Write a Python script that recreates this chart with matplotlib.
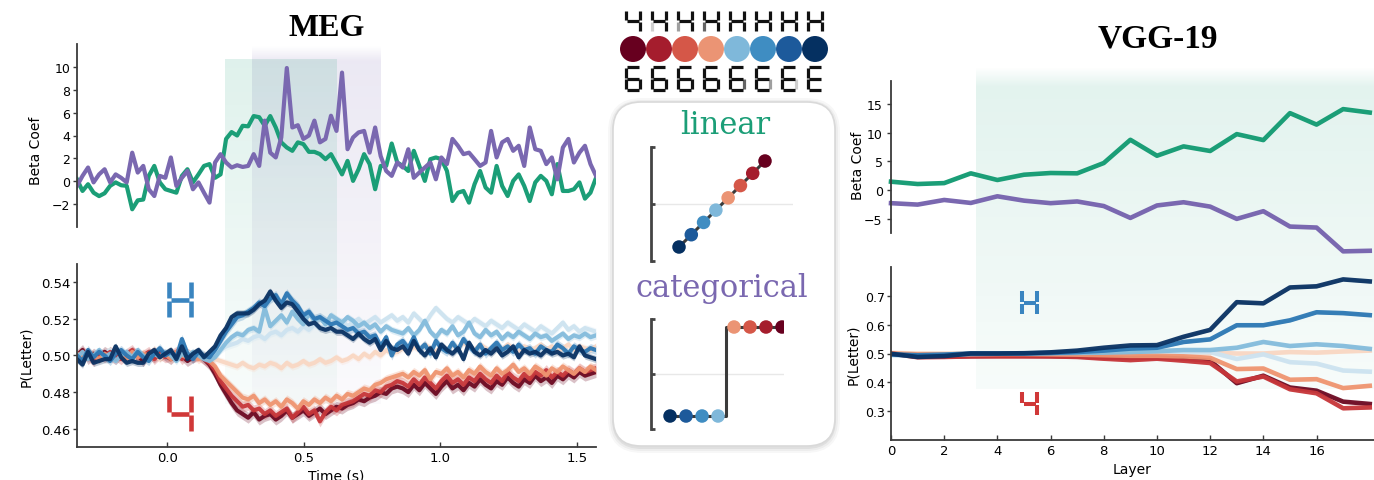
import numpy as np
import matplotlib.pyplot as plt
from matplotlib.colors import to_rgb
from matplotlib.patches import FancyBboxPatch

W, H = 1374, 481
GREEN = '#1b9e77'
PURPLE = '#7a68b0'

# ---------------- MEG: regression betas (20 ms steps, -0.33 .. 1.57 s) ----------------
meg_linear = [0.17, -0.85, -0.26, -1.0, -1.3, -1.05, -0.4, -0.1, -0.35, -0.4,
              -2.45, -1.67, -1.6, 0.47, 1.34, -0.1, -0.7, -0.85, -1.0, 0.47,
              1.05, -0.1, 0.6, 1.34, 1.5, 0.3, 0.6, 3.7, 4.3, 4.0,
              4.85, 4.8, 5.7, 5.6, 4.85, 5.7, 4.7, 3.4, 2.95, 2.66,
              3.4, 3.25, 2.57, 2.57, 2.37, 1.93, 2.37, 1.5, 0.6, 1.78,
              0.03, 1.05, 2.37, 1.5, -0.7, 1.34, 1.34, 3.3, 1.64, 1.34,
              0.9, 2.66, 1.34, 0.03, 1.93, 2.08, 1.93, 0.9, -1.73, -1.0,
              -0.85, -1.87, -0.26, 0.9, -0.55, -1.0, 1.34, -0.41, -1.29, 0.03,
              0.6, -0.41, -1.73, -0.1, 0.47, 0.03, -1.14, 1.5, -0.85, -0.85,
              -0.7, -0.1, -1.52, -1.0, 0.3]
meg_categorical = [-0.41, 0.47, 1.2, -0.1, 0.6, 1.05, -0.1, 0.6, 0.3, -0.1,
                   2.5, 0.76, 1.34, -0.7, -1.29, 0.47, 0.3, 2.08, -0.41, 0.3,
                   0.9, -0.7, -0.1, -1.0, -1.87, 1.64, 2.37, 1.64, 1.2, 1.4,
                   1.25, 1.34, 2.37, 1.34, 5.3, 2.5, 2.08, 3.83, 9.9, 4.7,
                   4.9, 3.7, 4.0, 5.3, 3.4, 3.7, 5.73, 4.4, 9.5, 2.8,
                   3.83, 4.27, 4.4, 2.5, 4.7, 2.2, 0.9, 0.47, 1.64, 1.2,
                   2.8, 0.3, 0.76, 1.2, 1.64, 0.17, 2.08, 1.5, 3.7, 3.1,
                   2.37, 2.5, 1.93, 1.34, 1.64, 4.4, 2.08, 3.4, 3.7, 2.66,
                   3.1, 1.34, 4.7, 2.8, 2.66, 1.5, 2.08, 0.17, 2.95, 3.7,
                   1.64, 2.5, 3.1, 1.5, 0.47]
meg_sig_linear = (0.21, 0.62)
meg_sig_categorical = (0.31, 0.78)

# ---------------- MEG: P(Letter) per morph level ----------------
meg_dark_red = [.500, .503, .498, .501, .499, .502, .500, .498, .501, .499, .502, .500, .497, .501, .499, .502, .500, .498, .501, .500, .497, .499, .501, .498, .495,
                .490, .484, .479, .474, .470, .468, .466, .469, .465, .467, .468, .465, .467, .470, .466, .468, .470, .467, .469, .471, .468, .470, .472, .471, .473, .474, .476, .475, .477, .478, .480, .479, .482, .483,
                .482, .480, .484, .481, .485, .482, .479, .483, .486, .482, .484, .481, .485, .483, .487, .484, .482, .486, .484, .488, .485, .483, .487, .485, .489, .486, .488, .485, .489, .487, .490, .488, .491, .489, .490, .491]
meg_red = [.499, .502, .500, .497, .501, .499, .502, .500, .498, .501, .503, .499, .500, .502, .498, .501, .499, .500, .502, .498, .501, .499, .500, .498, .496,
           .492, .486, .482, .478, .475, .472, .473, .470, .471, .468, .470, .467, .469, .471, .466, .469, .472, .468, .470, .464, .469, .472, .470, .473, .474, .475, .477, .479, .478, .481, .480, .483, .484, .486,
           .485, .483, .487, .484, .488, .485, .482, .486, .489, .485, .487, .484, .488, .486, .490, .487, .485, .489, .486, .491, .488, .486, .490, .487, .491, .489, .492, .488, .491, .489, .492, .490, .493, .491, .492, .493]
meg_salmon = [.501, .499, .502, .500, .498, .501, .499, .503, .500, .498, .502, .499, .501, .500, .503, .499, .501, .498, .502, .500, .499, .501, .498, .500, .497,
              .494, .489, .486, .483, .480, .477, .476, .478, .474, .476, .473, .475, .472, .476, .474, .471, .475, .473, .476, .474, .477, .475, .478, .476, .479, .478, .480, .482, .481, .484, .485, .487, .488, .489,
              .490, .488, .491, .489, .492, .487, .491, .490, .493, .489, .491, .488, .492, .490, .494, .491, .489, .493, .490, .492, .495, .491, .493, .490, .494, .492, .489, .493, .491, .494, .492, .490, .493, .491, .494, .492]
meg_peach = [.500, .502, .499, .501, .498, .500, .503, .499, .501, .500, .497, .501, .499, .502, .500, .498, .501, .503, .499, .500, .502, .499, .501, .500, .499,
             .498, .497, .496, .495, .494, .496, .494, .493, .495, .494, .496, .495, .493, .496, .494, .495, .497, .495, .496, .498, .496, .497, .499, .497, .498, .500, .498, .501, .499, .502, .500, .503, .501, .502,
             .504, .502, .505, .503, .506, .504, .502, .505, .503, .506, .504, .507, .505, .503, .506, .504, .502, .505, .503, .506, .504, .502, .505, .503, .504, .506, .503, .505, .502, .504, .506, .503, .505, .504, .503, .505]
meg_pale_blue = [.501, .499, .502, .500, .498, .501, .503, .499, .500, .502, .498, .501, .499, .502, .500, .503, .499, .501, .500, .498, .502, .500, .501, .499, .500,
                 .501, .503, .505, .506, .507, .509, .508, .510, .511, .509, .512, .513, .511, .514, .515, .513, .516, .514, .517, .515, .516, .514, .517, .519, .516, .518, .520, .517, .519, .521, .518, .520, .522, .519,
                 .521, .518, .523, .520, .517, .522, .526, .523, .520, .518, .521, .519, .517, .520, .518, .516, .519, .517, .515, .518, .516, .514, .517, .515, .513, .516, .514, .512, .515, .518, .514, .516, .513, .515, .514, .513]
meg_light_blue = [.499, .502, .498, .500, .503, .499, .501, .497, .500, .502, .499, .503, .500, .498, .501, .499, .502, .500, .497, .501, .499, .502, .500, .498, .497,
                  .499, .503, .507, .510, .512, .511, .514, .515, .513, .526, .516, .519, .522, .518, .524, .520, .517, .523, .519, .521, .517, .522, .520, .518, .521, .519, .516, .518, .515, .517, .513, .516, .514, .513,
                  .512, .515, .511, .514, .519, .513, .510, .514, .512, .516, .511, .513, .518, .512, .510, .514, .511, .513, .509, .512, .510, .513, .511, .509, .512, .510, .511, .508, .510, .512, .509, .511, .510, .512, .510, .511]
meg_blue = [.500, .497, .503, .499, .502, .500, .497, .501, .503, .500, .498, .502, .499, .497, .501, .504, .500, .502, .499, .509, .501, .498, .502, .500, .499,
            .503, .508, .513, .517, .521, .522, .524, .526, .529, .527, .531, .533, .528, .534, .530, .527, .522, .524, .520, .521, .519, .517, .518, .516, .514, .515, .512, .513, .510, .511, .505, .510, .500, .506,
            .508, .504, .510, .503, .506, .501, .508, .504, .502, .507, .503, .509, .505, .502, .506, .501, .504, .507, .503, .505, .502, .506, .503, .504, .501, .505, .503, .502, .506, .504, .501, .505, .503, .502, .504, .503]
meg_navy = [.498, .495, .502, .496, .497, .498, .498, .505, .499, .496, .497, .496, .496, .501, .503, .499, .501, .503, .498, .505, .498, .501, .503, .499, .502,
            .505, .511, .515, .521, .523, .523, .523, .525, .528, .530, .535, .530, .526, .529, .528, .524, .520, .517, .518, .515, .514, .515, .513, .513, .511, .509, .512, .509, .507, .509, .503, .508, .504, .503,
            .505, .501, .508, .503, .500, .504, .499, .506, .503, .501, .504, .498, .507, .502, .500, .503, .501, .504, .500, .502, .505, .499, .503, .501, .502, .500, .503, .501, .502, .500, .501, .499, .505, .500, .499, .498]
meg_sem = [0.003, 0.003, 0.0025, 0.002, 0.002, 0.002, 0.0025, 0.002]

# ---------------- VGG-19 ----------------
vgg_layers = list(range(19))
vgg_linear = [1.45, 1.04, 1.2, 2.9, 1.74, 2.66, 2.96, 2.9, 4.7, 8.75, 5.97, 7.6, 6.8, 9.74, 8.7, 13.4, 11.4, 14.1, 13.5]
vgg_categorical = [-2.3, -2.55, -1.74, -2.26, -1.1, -1.86, -2.3, -2.0, -2.8, -4.87, -2.7, -2.14, -2.9, -5.04, -3.7, -6.38, -6.55, -10.7, -10.6]
vgg_sig_linear = (3.2, 18.3)
vgg_dark_red = [.500, .490, .490, .491, .492, .492, .491, .490, .486, .484, .486, .482, .475, .397, .423, .382, .371, .333, .325]
vgg_red = [.500, .487, .488, .490, .490, .490, .490, .488, .482, .477, .482, .475, .467, .403, .420, .376, .362, .310, .313]
vgg_salmon = [.500, .497, .497, .498, .498, .498, .497, .496, .494, .492, .492, .490, .485, .446, .448, .409, .411, .380, .388]
vgg_peach = [.502, .500, .500, .500, .500, .500, .500, .500, .499, .499, .499, .500, .503, .500, .500, .505, .503, .507, .510]
vgg_pale_blue = [.496, .495, .497, .499, .500, .500, .500, .501, .501, .502, .503, .504, .505, .481, .497, .470, .465, .441, .437]
vgg_light_blue = [.495, .493, .495, .498, .499, .500, .501, .502, .503, .505, .508, .512, .512, .520, .540, .526, .532, .526, .516]
vgg_blue = [.497, .494, .496, .500, .500, .500, .502, .505, .510, .517, .520, .540, .549, .598, .598, .615, .643, .640, .633]
vgg_navy = [.499, .488, .491, .500, .500, .501, .504, .510, .520, .528, .529, .558, .582, .678, .674, .729, .733, .757, .750]
vgg_sem = 0.005

# ---------------- legend / schema ----------------
morph_colors = ['#67001f', '#a51d2d', '#d55748', '#eb9474', '#7fb8da', '#3f8dc2', '#1d5a9b', '#053061']
line_colors = ['#6d0a22', '#c7373a', '#ef9571', '#f9d7c3', '#cde3f0', '#84bcdc', '#2d78b4', '#0a3263']
top_e_weight = [0, .2, .4, .65, 1, 1, 1, 1]       # 4 -> H
bottom_c_weight = [1, 1, 1, 1, .65, .4, .2, 0]    # 6 -> E
schema_x = [0, 1, 2, 3, 4, 5, 6, 7]
schema_linear = [0, 1, 2, 3, 4, 5, 6, 7]
schema_categorical = [0, 0, 0, 0, 1, 1, 1, 1]

SEGMENTS = {
    'a': [(0.1, 1.0), (0.9, 1.0)], 'b': [(1.0, 0.97), (1.0, 0.54)],
    'c': [(1.0, 0.46), (1.0, 0.03)], 'd': [(0.1, 0.0), (0.9, 0.0)],
    'e': [(0.0, 0.46), (0.0, 0.03)], 'f': [(0.0, 0.97), (0.0, 0.54)],
    'g': [(0.1, 0.5), (0.9, 0.5)],
}


def seven_seg(ax, x, y, w, h, segs, color, lw, transform=None):
    tr = ax.transData if transform is None else transform
    for name, a in segs.items():
        if a <= 0:
            continue
        (u0, v0), (u1, v1) = SEGMENTS[name]
        ax.plot([x + u0 * w, x + u1 * w], [y + v0 * h, y + v1 * h], color=color,
                alpha=a, lw=lw, solid_capstyle='butt', transform=tr, clip_on=False)


plt.rcParams['font.family'] = 'DejaVu Sans'
fig = plt.figure(figsize=(W / 100, H / 100), dpi=100)

bg = fig.add_axes([0, 0, 1, 1], zorder=0)
bg.set_xlim(0, W)
bg.set_ylim(H, 0)
bg.set_autoscale_on(False)
bg.axis('off')


def px_axes(l, t, r, b, z=1):
    ax = fig.add_axes([l / W, 1 - b / H, (r - l) / W, (b - t) / H], zorder=z)
    ax.set_facecolor('none')
    return ax


def style(ax, bottom, ypad, ysize):
    for s in ['top', 'right']:
        ax.spines[s].set_visible(False)
    ax.spines['bottom'].set_visible(bottom)
    for s in ['left', 'bottom']:
        ax.spines[s].set_color('#3a3a3a')
        ax.spines[s].set_linewidth(1.3)
    ax.tick_params(axis='y', direction='out', length=3, width=1, color='#3a3a3a',
                   labelsize=ysize, pad=ypad)
    ax.tick_params(axis='x', direction='in', length=3.5, width=1, color='#3a3a3a',
                   labelsize=9.5, pad=3)
    if not bottom:
        ax.set_xticks([])


def span_gradient(ax, x0, x1, color, top, bottom, a_top, a_bot, ramp=0):
    to_px = lambda x: bg.transData.inverted().transform(ax.transData.transform((x, 0)))[0]
    p0, p1 = to_px(x0), to_px(x1)
    ys = np.arange(top, bottom) + 0.5
    alpha = np.interp(ys, [top, top + ramp, bottom], [0 if ramp else a_top, a_top, a_bot])
    img = np.zeros((len(ys), 1, 4))
    img[..., :3] = to_rgb(color)
    img[:, 0, 3] = alpha
    bg.imshow(img, extent=(p0, p1, bottom, top), aspect='auto', interpolation='nearest', zorder=0)


# ---------------- MEG panels ----------------
ax_mt = px_axes(77, 45, 596, 228)
ax_mb = px_axes(77, 265, 596, 448)
for ax in (ax_mt, ax_mb):
    ax.set_xlim(-0.33, 1.57)

t_lin = np.linspace(-0.33, 1.57, len(meg_linear))
t_cat = np.linspace(-0.33, 1.57, len(meg_categorical))
ax_mt.plot(t_lin, meg_linear, color=GREEN, lw=3)
ax_mt.plot(t_cat, meg_categorical, color=PURPLE, lw=3)
ax_mt.set_ylim(-4, 12)
ax_mt.set_yticks(range(-2, 11, 2))
style(ax_mt, False, 2, 9)
ax_mt.set_ylabel('Beta Coef', fontsize=10)
ax_mt.yaxis.set_label_coords(-0.065, 0.42)

meg_lines = [meg_dark_red, meg_red, meg_salmon, meg_peach, meg_pale_blue, meg_light_blue, meg_blue, meg_navy]
for k in [3, 4, 0, 1, 2, 5, 6, 7]:
    v = np.array(meg_lines[k])
    t = np.linspace(-0.33, 1.57, len(v))
    ax_mb.fill_between(t, v - meg_sem[k], v + meg_sem[k], color=line_colors[k], alpha=0.25, lw=0)
    ax_mb.plot(t, v, color=line_colors[k], lw=3, alpha=0.95)
ax_mb.set_ylim(0.45, 0.55)
ax_mb.set_yticks([0.46, 0.48, 0.50, 0.52, 0.54])
ax_mb.set_xticks([0.0, 0.5, 1.0, 1.5])
style(ax_mb, True, 1.5, 9.5)
ax_mb.set_ylabel('P(Letter)', fontsize=10)
ax_mb.yaxis.set_label_coords(-0.085, 0.5)
ax_mb.set_xlabel('Time (s)', fontsize=10)
ax_mb.xaxis.set_label_coords(0.5, -0.115)
seven_seg(ax_mb, 0.177, 0.705, 0.043, 0.2, dict(f=1, e=1, b=1, c=1, g=1), '#3a85c0', 3.3, ax_mb.transAxes)
seven_seg(ax_mb, 0.177, 0.082, 0.043, 0.2, dict(f=1, g=1, b=1, c=1), '#d03838', 3.3, ax_mb.transAxes)

# ---------------- VGG panels ----------------
ax_vt = px_axes(891, 82, 1374, 234)
ax_vb = px_axes(891, 268, 1374, 441)
for ax in (ax_vt, ax_vb):
    ax.set_xlim(0, 18.16)

ax_vt.plot(vgg_layers, vgg_linear, color=GREEN, lw=3.3, clip_on=False)
ax_vt.plot(vgg_layers, vgg_categorical, color=PURPLE, lw=3.3, clip_on=False)
ax_vt.set_ylim(-7.5, 19)
ax_vt.set_yticks([-5, 0, 5, 10, 15])
style(ax_vt, False, 3, 9)
ax_vt.set_ylabel('Beta Coef', fontsize=10)
ax_vt.yaxis.set_label_coords(-0.054, 0.45)

vgg_lines = [vgg_dark_red, vgg_red, vgg_salmon, vgg_peach, vgg_pale_blue, vgg_light_blue, vgg_blue, vgg_navy]
for k in [3, 4, 0, 1, 2, 5, 6, 7]:
    v = np.array(vgg_lines[k])
    ax_vb.fill_between(vgg_layers, v - vgg_sem, v + vgg_sem, color=line_colors[k], alpha=0.25, lw=0)
    ax_vb.plot(vgg_layers, v, color=line_colors[k], lw=3.3, alpha=0.95)
ax_vb.set_ylim(0.2, 0.8)
ax_vb.set_yticks([0.3, 0.4, 0.5, 0.6, 0.7])
ax_vb.set_xticks(range(0, 17, 2))
style(ax_vb, True, 1.5, 9)
ax_vb.set_ylabel('P(Letter)', fontsize=10)
ax_vb.yaxis.set_label_coords(-0.064, 0.5)
ax_vb.set_xlabel('Layer', fontsize=10)
ax_vb.xaxis.set_label_coords(0.5, -0.125)
seven_seg(ax_vb, 0.272, 0.724, 0.031, 0.14, dict(f=1, e=1, b=1, c=1, g=1), '#3a85c0', 2.9, ax_vb.transAxes)
seven_seg(ax_vb, 0.272, 0.14, 0.031, 0.14, dict(f=1, g=1, b=1, c=1), '#d03838', 2.9, ax_vb.transAxes)

# ---------------- significance shading ----------------
span_gradient(ax_mt, *meg_sig_categorical, PURPLE, 47, 405, 0.15, 0.03, ramp=15)
span_gradient(ax_mt, *meg_sig_linear, GREEN, 60, 405, 0.14, 0.03)
span_gradient(ax_vt, *vgg_sig_linear, GREEN, 68, 390, 0.125, 0.035, ramp=20)

bg.text(327, 29, 'MEG', ha='center', va='center', fontsize=23, fontweight='bold', family='Liberation Serif')
bg.text(1158, 39, 'VGG-19', ha='center', va='center', fontsize=24, fontweight='bold', family='Liberation Serif')

# ---------------- centre schema ----------------
for grow, a in [(6, 0.03), (4, 0.04), (2, 0.06)]:
    bg.add_patch(FancyBboxPatch((613 - grow + 1, 103 - grow + 2), 222 + 2 * grow - 2, 344 + 2 * grow - 1,
                                boxstyle='round,pad=0,rounding_size=%d' % (28 + grow),
                                fc='#000000', ec='none', alpha=a, zorder=1))
bg.add_patch(FancyBboxPatch((613, 103), 222, 344, boxstyle='round,pad=0,rounding_size=28',
                            fc='white', ec='#d9d9d9', lw=1.2, zorder=2))
bg.text(725, 126, 'linear', ha='center', va='center', fontsize=22, color=GREEN, family='DejaVu Serif', zorder=3)
bg.text(722, 289, 'categorical', ha='center', va='center', fontsize=22, color=PURPLE, family='DejaVu Serif', zorder=3)

ax_h = px_axes(620, 0, 828, 100, z=3)
ax_h.set_xlim(-0.5, 7.5)
ax_h.set_ylim(100, 0)
ax_h.axis('off')
ax_h.scatter(schema_x, [50] * 8, s=350, c=morph_colors, linewidths=0, zorder=2)
for i in schema_x:
    seven_seg(ax_h, i - 0.27, 33, 0.54, -22, dict(f=1, b=1, g=1, c=1, e=top_e_weight[i]), '#111111', 2.3)
    seven_seg(ax_h, i - 0.27, 91, 0.54, -23, dict(a=1, f=1, g=1, e=1, d=1, c=bottom_c_weight[i]), '#111111', 2.3)

schema_colors = morph_colors[::-1]
ax_lin = px_axes(651, 148, 793, 262, z=3)
ax_lin.set_xlim(-2.28, 9.28)
ax_lin.set_ylim(-1.14, 8.14)
ax_lin.axhline(3.5, color='#e8e8e8', lw=1, zorder=0)
ax_lin.plot(schema_x, schema_linear, color='#3b3b3b', lw=2.2, zorder=1)
ax_lin.scatter(schema_x, schema_linear, s=95, c=schema_colors, linewidths=0, zorder=2)

ax_cat = px_axes(651, 320, 784, 430, z=3)
ax_cat.set_xlim(-1.19, 7.125)
ax_cat.set_ylim(-0.146, 1.09)
ax_cat.axhline(0.472, color='#e8e8e8', lw=1, zorder=0)
ax_cat.plot(schema_x, schema_categorical, color='#3b3b3b', lw=2.2, drawstyle='steps-mid', zorder=1)
ax_cat.scatter(schema_x, schema_categorical, s=95, c=schema_colors, linewidths=0, zorder=2)

for ax in (ax_lin, ax_cat):
    for s in ['top', 'right', 'bottom']:
        ax.spines[s].set_visible(False)
    ax.spines['left'].set_color('#444444')
    ax.spines['left'].set_linewidth(2)
    lo, hi = ax.get_ylim()
    ax.set_yticks([lo, (lo + hi) / 2, hi])
    ax.set_yticklabels([])
    ax.set_xticks([])
    ax.tick_params(axis='y', direction='in', length=3, width=2, color='#444444')

fig.savefig('out.png', dpi=100)
